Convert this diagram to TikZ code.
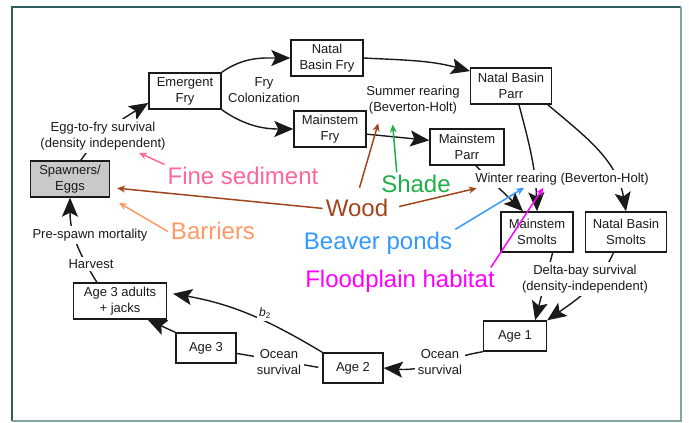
\documentclass[tikz,border=0pt]{standalone}
\usepackage{fontspec}
\setmainfont{Liberation Sans}
\usetikzlibrary{arrows.meta}
\definecolor{inkgray}{HTML}{1A1A1A}
\definecolor{framedark}{HTML}{2F5D5D}
\definecolor{framelight}{HTML}{86A3A3}
\definecolor{eggfill}{HTML}{C9C9C9}
\definecolor{sedpink}{HTML}{FF6699}
\definecolor{shadegreen}{HTML}{1DB045}
\definecolor{woodbrown}{HTML}{A0461E}
\definecolor{barrierorange}{HTML}{FF9966}
\definecolor{beaverblue}{HTML}{3399FF}
\definecolor{floodmagenta}{HTML}{FF00FF}
\tikzset{
  stage/.style={draw, line width=1.4pt, align=center, inner xsep=7pt, inner ysep=3pt,
    minimum width=72pt, minimum height=36pt},
  agebox/.style={stage, minimum width=60pt, minimum height=30pt},
  note/.style={align=center, fill=white, inner sep=2.5pt},
  factor/.style={font=\fontsize{24}{28}\selectfont, anchor=base, inner sep=3pt},
  flow/.style={line width=1.4pt, -{Stealth[length=19pt,width=16pt,inset=4pt]}},
  link/.style={line width=1.4pt},
  push/.style={line width=1.5pt, -{Stealth[length=8pt,width=7pt]}}
}
\begin{document}
\begin{tikzpicture}[x=1pt,y=1pt,font=\fontsize{13}{16}\selectfont,color=inkgray]
\useasboundingbox (0,0) rectangle (689,423);
\draw[line width=2pt,framedark] (12,2) -- (12,416) -- (681,416);
\draw[line width=2pt,framelight] (681,416) -- (681,2) -- (12,2);

\node[stage, fill=eggfill, minimum width=79pt] (spawn) at (70,244) {Spawners/\\Eggs};
\node[stage] (emerg) at (185,332) {Emergent\\Fry};
\node[stage] (nbfry) at (327,365) {Natal\\Basin Fry};
\node[stage] (mfry) at (330,294) {Mainstem\\Fry};
\node[stage] (nbparr) at (511,337) {Natal Basin\\Parr};
\node[stage, minimum width=74pt] (mparr) at (467,276) {Mainstem\\Parr};
\node[stage, minimum height=40pt] (msmolt) at (537,191) {Mainstem\\Smolts};
\node[stage, minimum height=40pt] (nbsmolt) at (626,191) {Natal Basin\\Smolts};
\node[agebox, minimum width=63pt] (age1) at (515,87) {Age 1};
\node[agebox] (age2) at (353,55) {Age 2};
\node[agebox] (age3) at (206,75) {Age 3};
\node[stage, minimum width=93pt] (adults) at (120,122) {Age 3 adults\\+ jacks};

\draw[flow] (spawn.60) to[out=55,in=212] (emerg.-162);
\draw[flow] (emerg.north east) to[out=35,in=180] (nbfry.west);
\draw[flow] (emerg.south east) to[out=-35,in=180] (mfry.west);
\draw[flow] (nbfry.east) to[out=-3,in=165] (nbparr.160);
\draw[flow] (mfry.-8) -- (mparr.170);
\draw[flow] (nbparr.-67) to[out=-75,in=92] (msmolt.north);
\draw[flow] (nbparr.-27) to[out=-40,in=100] (nbsmolt.north);
\draw[flow] (mparr.-65) -- (msmolt.124);
\draw[flow] (msmolt.-53) -- (age1.38);
\draw[flow] (nbsmolt.-121) to[out=-115,in=35] (age1.north east);
\draw[flow] (age1.south west) to[out=190,in=-5] (age2.east);
\draw[flow, shorten >=6pt] (age2.north west) to[out=149,in=-10] (adults.10);
\draw[link, shorten <=4pt] (age2.west) -- (age3.-10);
\draw[flow] (age3.north west) -- (adults.-34);
\draw[flow] (adults.141) to[out=122,in=-90] (spawn.south);

\node[note] (eggfry) at (103,287) {Egg-to-fry survival\\(density independent)};
\node[align=center] (colon) at (264,333) {Fry\\Colonization};
\node[align=center] (summer) at (413,323) {Summer rearing\\(Beverton-Holt)};
\node[note] (winter) at (562,244) {Winter rearing (Beverton-Holt)};
\node[note] (delta) at (585,144) {Delta-bay survival\\(density-independent)};
\node[note] (oceanR) at (440,61) {Ocean\\survival};
\node[note] (oceanL) at (279,61) {Ocean\\survival};
\node[note, font=\fontsize{12}{14}\selectfont] (b2) at (265,110) {\textit{b}\textsubscript{2}};
\node[note] (harvest) at (91,159) {Harvest};
\node[note] (prespawn) at (90,188) {Pre-spawn mortality};

\node[factor, sedpink] (fine) at (243,238) {Fine sediment};
\node[factor, shadegreen] (shade) at (416,230) {Shade};
\node[factor, woodbrown] (wood) at (357,206) {Wood};
\node[factor, barrierorange] (barriers) at (213,183) {Barriers};
\node[factor, beaverblue] (beaver) at (378,173) {Beaver ponds};
\node[factor, floodmagenta] (flood) at (400,135) {Floodplain habitat};

\draw[push, sedpink] (fine.north west) -- (eggfry.-25);
\draw[push, woodbrown, shorten >=7pt] (wood.west) -- (spawn.-12);
\draw[push, woodbrown, shorten <=9pt, shorten >=6pt] (wood.north) -- (summer.-152);
\draw[push, woodbrown, shorten <=8pt, shorten >=2pt] (wood.east) -- (winter.-174);
\draw[push, shadegreen, shorten >=7pt] (shade.148) -- (summer.-140);
\draw[push, barrierorange, shorten >=10pt] (barriers.west) -- (spawn.south east);
\draw[push, beaverblue] (beaver.north east) -- (winter.-167);
\draw[push, floodmagenta] (flood.9) -- (winter.-155);
\end{tikzpicture}
\end{document}
